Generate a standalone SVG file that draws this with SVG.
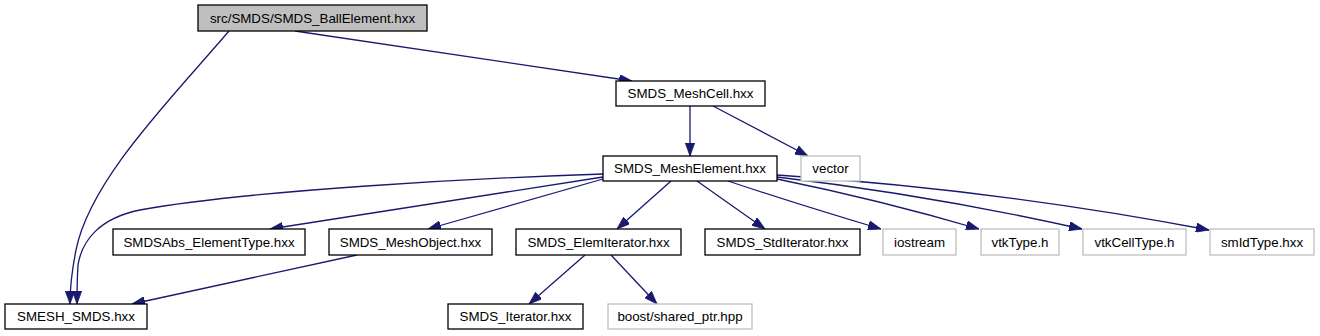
<svg xmlns="http://www.w3.org/2000/svg" width="1320" height="336" viewBox="0 0 1320 336">
<style>
.n rect{fill:#fff;stroke:#000;stroke-width:1.3}
.n.g rect{stroke:#bfbfbf}
.n.root rect{fill:#bfbfbf}
.n text{font-family:"Liberation Sans",Arial,sans-serif;font-size:13.33px;fill:#000;text-anchor:middle}
#edges path{fill:none;stroke:#191970;stroke-width:1.3;marker-end:url(#arr)}
</style>
<defs>
<marker id="arr" markerUnits="userSpaceOnUse" markerWidth="13" markerHeight="9.4" viewBox="0 0 10 7.2" refX="10" refY="3.6" orient="auto">
<path d="M0,0 L10,3.6 L0,7.2 z" fill="#191970" stroke="#191970" stroke-width="0.6"/>
</marker>
</defs>
<rect width="1320" height="336" fill="#fff"/>
<g id="edges">
<path d="M229,31 C170,100 90,180 76,250 C72,270 70,290 70,304"/>
<path d="M295,31 L632,81"/>
<path d="M690,106 L690,156"/>
<path d="M713,106 L808,156"/>
<path d="M603,174 C480,178 250,190 140,210 C100,218 82,240 78,265 C77,280 77,294 77,304"/>
<path d="M603,177 L270,229"/>
<path d="M603,179 L428,229"/>
<path d="M671,181 L617,229"/>
<path d="M697,181 L765,229"/>
<path d="M728,181 Q800,205 881,229"/>
<path d="M777,179 Q880,200 979,229"/>
<path d="M777,177 Q930,195 1082,229"/>
<path d="M777,175 Q1000,190 1209,230"/>
<path d="M357,255 L132,304"/>
<path d="M585,255 L529,304"/>
<path d="M611,255 L657,304"/>
</g>
<g id="n_root" class="n root"><rect x="198" y="5" width="229" height="26"/><text x="312.5" y="22.5">src/SMDS/SMDS_BallElement.hxx</text></g>
<g id="n_meshcell" class="n"><rect x="616" y="81" width="149" height="25"/><text x="690.5" y="98">SMDS_MeshCell.hxx</text></g>
<g id="n_meshelement" class="n"><rect x="603" y="156" width="174" height="25"/><text x="690" y="173">SMDS_MeshElement.hxx</text></g>
<g id="n_vector" class="n g"><rect x="801" y="156" width="59" height="25"/><text x="830.5" y="173">vector</text></g>
<g id="n_smdsabs" class="n"><rect x="113" y="229" width="192" height="26"/><text x="209" y="246.5">SMDSAbs_ElementType.hxx</text></g>
<g id="n_meshobject" class="n"><rect x="329" y="229" width="163" height="26"/><text x="410.5" y="246.5">SMDS_MeshObject.hxx</text></g>
<g id="n_elemiterator" class="n"><rect x="516" y="229" width="165" height="26"/><text x="598.5" y="246.5">SMDS_ElemIterator.hxx</text></g>
<g id="n_stditerator" class="n"><rect x="705" y="229" width="155" height="26"/><text x="782.5" y="246.5">SMDS_StdIterator.hxx</text></g>
<g id="n_iostream" class="n g"><rect x="883" y="229" width="73" height="26"/><text x="919.5" y="246.5">iostream</text></g>
<g id="n_vtktype" class="n g"><rect x="981" y="229" width="78" height="26"/><text x="1020" y="246.5">vtkType.h</text></g>
<g id="n_vtkcelltype" class="n g"><rect x="1083" y="229" width="103" height="26"/><text x="1134.5" y="246.5">vtkCellType.h</text></g>
<g id="n_smidtype" class="n g"><rect x="1210" y="229" width="104" height="26"/><text x="1262" y="246.5">smIdType.hxx</text></g>
<g id="n_smesh_smds" class="n"><rect x="5" y="304" width="142" height="25"/><text x="76" y="321">SMESH_SMDS.hxx</text></g>
<g id="n_iterator" class="n"><rect x="448" y="304" width="135" height="25"/><text x="515.5" y="321">SMDS_Iterator.hxx</text></g>
<g id="n_boost" class="n g"><rect x="608" y="304" width="144" height="25"/><text x="680" y="321">boost/shared_ptr.hpp</text></g>
</svg>
